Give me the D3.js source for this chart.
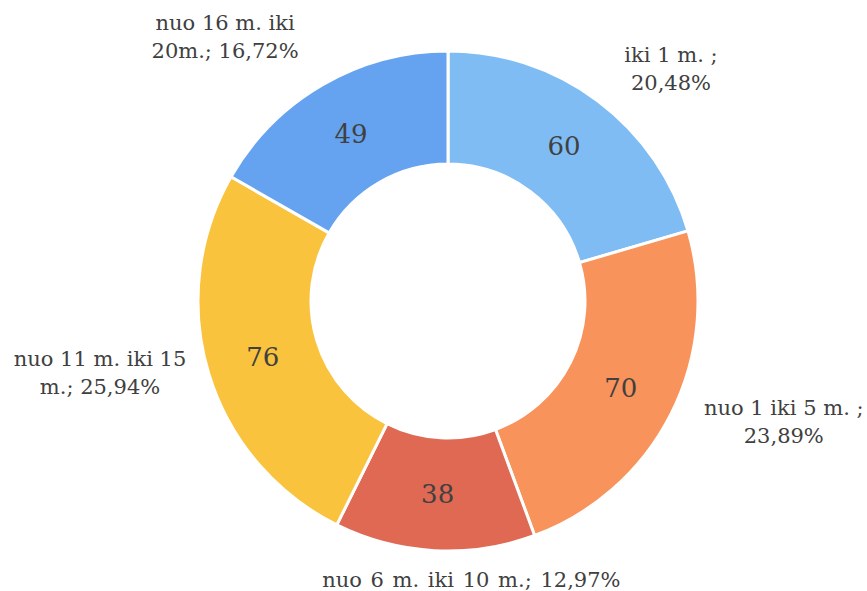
<!DOCTYPE html>
<html>
<head>
<meta charset="utf-8">
<script src="https://cdn.jsdelivr.net/npm/d3@7"></script>
<style>
  body { margin: 0; background: #fff; }
</style>
</head>
<body>
<svg width="867" height="591"></svg>
<script>
const categories = ["iki 1 m. ;", "nuo 1 iki 5 m. ;", "nuo 6 m. iki 10 m.;", "nuo 11 m. iki 15 m.;", "nuo 16 m. iki 20m.;"];
const values = [60, 70, 38, 76, 49];
const percents = ["20,48%", "23,89%", "12,97%", "25,94%", "16,72%"];
const colors = ["#7fbcf4", "#f8935c", "#df6953", "#fac33e", "#65a3f0"];

// label lines and nudges from the outer edge of each slice
const labelLines = [
    ["iki 1 m. ;", "20,48%"],
    ["nuo 1 iki 5 m. ;", "23,89%"],
    ["nuo 6 m. iki 10 m.; 12,97%"],
    ["nuo 11 m. iki 15", "m.; 25,94%"],
    ["nuo 16 m. iki", "20m.; 16,72%"]
];
const labelShift = [[70, -28], [108, 6], [37, 24], [-104, -2], [-95, -44]];
const labelWordGap = [0, 0, 2, 0, 0];

const serif = "DejaVu Serif";
const svg = d3.select("svg");
const cx = 448, cy = 301, outer = 250, inner = 137;

const g = svg.append("g").attr("transform", `translate(${cx},${cy})`);

const pie = d3.pie().sort(null).value(d => d);
const arcs = pie(values);
const arc = d3.arc().innerRadius(inner).outerRadius(outer);
const edge = d3.arc().innerRadius(outer + 5).outerRadius(outer + 5);

g.selectAll("path")
    .data(arcs)
    .enter()
    .append("path")
    .attr("d", arc)
    .attr("fill", (d, i) => colors[i])
    .attr("stroke", "#fff")
    .attr("stroke-width", 3);

g.selectAll("text.val")
    .data(arcs)
    .enter()
    .append("text")
    .attr("class", "val")
    .attr("transform", d => `translate(${arc.centroid(d)})`)
    .attr("text-anchor", "middle")
    .attr("dy", "0.35em")
    .style("font-family", serif)
    .attr("font-size", 26)
    .attr("fill", "#404040")
    .text(d => d.data);

const labels = g.selectAll("text.lab")
    .data(arcs)
    .enter()
    .append("text")
    .attr("class", "lab")
    .attr("text-anchor", "middle")
    .style("font-family", serif)
    .style("word-spacing", (d, i) => labelWordGap[i] + "px")
    .attr("font-size", 21)
    .attr("fill", "#404040")
    .attr("transform", (d, i) => {
        const [x, y] = edge.centroid(d);
        return `translate(${x + labelShift[i][0]},${y + labelShift[i][1]})`;
    });

labels.each(function (d, i) {
    const t = d3.select(this);
    const lines = labelLines[i];
    lines.forEach((s, j) => {
        t.append("tspan")
            .attr("x", 0)
            .attr("y", (j - (lines.length - 1) / 2) * 28)
            .attr("dy", "0.35em")
            .text(s);
    });
});
</script>
</body>
</html>
